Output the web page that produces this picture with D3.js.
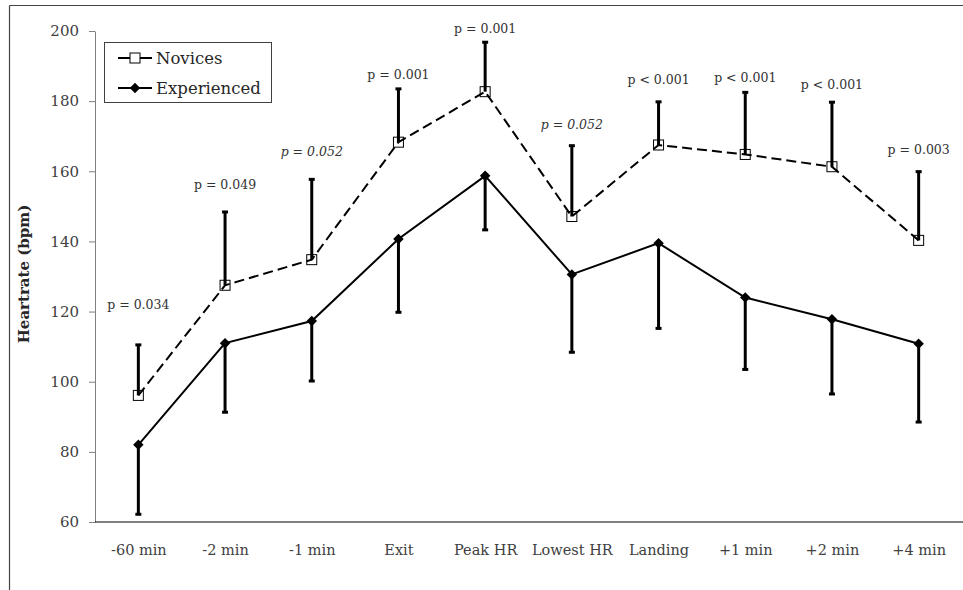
<!DOCTYPE html>
<html>
<head>
<meta charset="utf-8">
<script src="https://cdn.jsdelivr.net/npm/d3@7"></script>
<style>
    body { margin: 0; background: #fff; }
    svg text { font-family: "DejaVu Serif", serif; }
</style>
</head>
<body>
<div id="chart"></div>
<script>
// heart rate at each phase of the jump, mean +/- SD (bpm)
var categories = ["-60 min", "-2 min", "-1 min", "Exit", "Peak HR", "Lowest HR", "Landing", "+1 min", "+2 min", "+4 min"];
var novices = [96.1, 127.5, 134.8, 168.3, 182.7, 147.1, 167.5, 164.8, 161.3, 140.3];
var novicesSD = [14.4, 20.9, 22.9, 15.2, 14.1, 20.2, 12.3, 17.7, 18.4, 19.6];
var experienced = [82.0, 111.0, 117.3, 140.7, 158.7, 130.6, 139.5, 124.0, 117.8, 110.8];
var experiencedSD = [19.8, 19.7, 17.1, 20.9, 15.4, 22.2, 24.3, 20.5, 21.3, 22.3];
// p values between groups, shown above each pair; trend = not significant
var pLabels = ["p = 0.034", "p = 0.049", "p = 0.052", "p = 0.001", "p = 0.001", "p = 0.052", "p < 0.001", "p < 0.001", "p < 0.001", "p = 0.003"];
var pTrend = [false, false, true, false, false, true, false, false, false, false];
var pLabelHeight = [121.9, 156.1, 165.6, 187.7, 200.6, 173.2, 186.0, 186.8, 184.6, 166.3];
var yTicks = [60, 80, 100, 120, 140, 160, 180, 200];

var width = 963, height = 590;

var svg = d3.select("#chart").append("svg")
    .attr("width", width)
    .attr("height", height);

// outer frame (top and left edges only visible)
svg.append("line")
    .attr("x1", 9.5).attr("x2", width).attr("y1", 5.5).attr("y2", 5.5)
    .attr("stroke", "#444").attr("stroke-width", 1.2);
svg.append("line")
    .attr("x1", 9.5).attr("x2", 9.5).attr("y1", 5.5).attr("y2", height)
    .attr("stroke", "#444").attr("stroke-width", 1.2);

var x = d3.scalePoint()
    .domain(categories)
    .range([95, 962])
    .padding(0.5);

var y = d3.scaleLinear()
    .domain([60, 200])
    .range([522, 31]);

// y axis
var yAxis = svg.append("g")
    .attr("transform", "translate(95,0)")
    .call(d3.axisLeft(y).tickValues(yTicks).tickSize(6).tickPadding(10).tickSizeOuter(0));
yAxis.select(".domain").attr("stroke", "#808080");
yAxis.selectAll(".tick line").attr("stroke", "#808080");
yAxis.selectAll(".tick text")
    .attr("font-family", "DejaVu Serif")
    .attr("font-size", 15)
    .attr("fill", "#404040");

// x axis
var xAxis = svg.append("g")
    .attr("transform", "translate(0,522)")
    .call(d3.axisBottom(x).tickSize(0).tickPadding(23).tickSizeOuter(0));
xAxis.select(".domain")
    .attr("d", "M95,0H" + width)
    .attr("stroke", "#000").attr("stroke-width", 1.2);
xAxis.selectAll(".tick text")
    .attr("font-family", "DejaVu Serif")
    .attr("font-size", 14.5)
    .attr("fill", "#404040");

// y title
svg.append("text")
    .attr("transform", "translate(29,274) rotate(-90)")
    .attr("text-anchor", "middle")
    .attr("font-size", 15)
    .attr("font-weight", "bold")
    .attr("fill", "#262626")
    .text("Heartrate (bpm)");

var rows = categories.map(function(c, i) {
    return {
        cat: c,
        nov: novices[i], novSD: novicesSD[i],
        exp: experienced[i], expSD: experiencedSD[i],
        p: pLabels[i], trend: pTrend[i], pAt: pLabelHeight[i]
    };
});

var line = d3.line();

// experienced: solid line
svg.append("path")
    .attr("d", line(rows.map(function(d) { return [x(d.cat), y(d.exp)]; })))
    .attr("fill", "none")
    .attr("stroke", "#000")
    .attr("stroke-width", 2);

// novices: dashed line
svg.append("path")
    .attr("d", line(rows.map(function(d) { return [x(d.cat), y(d.nov)]; })))
    .attr("fill", "none")
    .attr("stroke", "#000")
    .attr("stroke-width", 2)
    .attr("stroke-dasharray", "10,5");

// markers
var diamond = d3.symbol().type(d3.symbolDiamond2).size(70);
svg.selectAll(".exp-pt")
    .data(rows)
    .enter().append("path")
    .attr("class", "exp-pt")
    .attr("transform", function(d) { return "translate(" + x(d.cat) + "," + y(d.exp) + ")"; })
    .attr("d", diamond)
    .attr("fill", "#000");

svg.selectAll(".nov-pt")
    .data(rows)
    .enter().append("rect")
    .attr("class", "nov-pt")
    .attr("x", function(d) { return x(d.cat) - 5; })
    .attr("y", function(d) { return y(d.nov) - 5; })
    .attr("width", 10)
    .attr("height", 10)
    .attr("fill", "none")
    .attr("stroke", "#000")
    .attr("stroke-width", 1);

// error bars: novices upward, experienced downward
function errorBar(sel, from, to) {
    sel.append("line")
        .attr("x1", function(d) { return x(d.cat); })
        .attr("x2", function(d) { return x(d.cat); })
        .attr("y1", from)
        .attr("y2", to)
        .attr("stroke", "#000")
        .attr("stroke-width", 3);
    sel.append("rect")
        .attr("x", function(d) { return x(d.cat) - 3; })
        .attr("y", function(d) { return to(d) - 1.5; })
        .attr("width", 6)
        .attr("height", 3)
        .attr("fill", "#000");
}

var bars = svg.selectAll(".err")
    .data(rows)
    .enter().append("g")
    .attr("class", "err");
errorBar(bars, function(d) { return y(d.nov); }, function(d) { return y(d.nov + d.novSD); });
errorBar(bars, function(d) { return y(d.exp); }, function(d) { return y(d.exp - d.expSD); });

// p value labels
svg.selectAll(".plabel")
    .data(rows)
    .enter().append("text")
    .attr("class", "plabel")
    .attr("x", function(d) { return x(d.cat); })
    .attr("y", function(d) { return y(d.pAt); })
    .attr("dy", "0.35em")
    .attr("text-anchor", "middle")
    .attr("font-size", 12.5)
    .attr("font-style", function(d) { return d.trend ? "italic" : "normal"; })
    .attr("fill", "#333")
    .text(function(d) { return d.p; });

// legend
var legend = svg.append("g");
legend.append("rect")
    .attr("x", 104.5).attr("y", 42.5)
    .attr("width", 167).attr("height", 60)
    .attr("fill", "#fff")
    .attr("stroke", "#404040")
    .attr("stroke-width", 1);

var items = [
    {name: "Novices", cy: 58},
    {name: "Experienced", cy: 88}
];
items.forEach(function(it, i) {
    legend.append("line")
        .attr("x1", 118).attr("x2", 152)
        .attr("y1", it.cy).attr("y2", it.cy)
        .attr("stroke", "#000").attr("stroke-width", 2);
    if (i === 0) {
        legend.append("rect")
            .attr("x", 130).attr("y", it.cy - 5)
            .attr("width", 10).attr("height", 10)
            .attr("fill", "#fff").attr("stroke", "#000");
    } else {
        legend.append("path")
            .attr("transform", "translate(135," + it.cy + ")")
            .attr("d", diamond)
            .attr("fill", "#000");
    }
    legend.append("text")
        .attr("x", 156).attr("y", it.cy)
        .attr("dy", "0.35em")
        .attr("font-size", 16.5)
        .attr("fill", "#262626")
        .text(it.name);
});
</script>
</body>
</html>
